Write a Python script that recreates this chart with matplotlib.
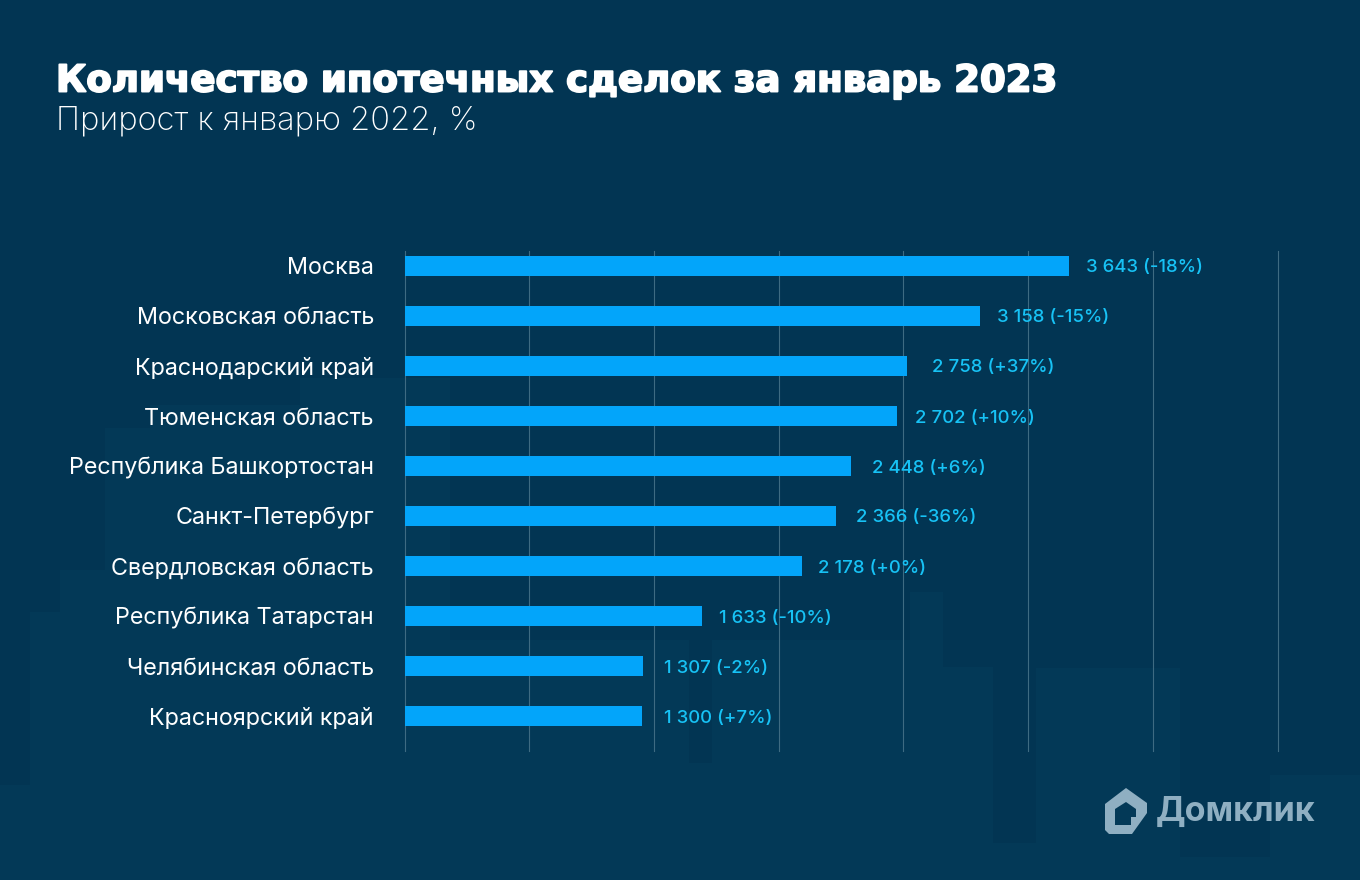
import matplotlib
matplotlib.use("Agg")
import matplotlib.pyplot as plt
import matplotlib.patheffects as pe
from matplotlib.patches import Polygon, Rectangle

W, H = 1360, 880
BG = "#023553"
BAR = "#03A5FA"
VALUE_COL = "#17C2F5"
FONT = "Inter"

regions = ["Москва", "Московская область", "Краснодарский край", "Тюменская область",
           "Республика Башкортостан", "Санкт-Петербург", "Свердловская область",
           "Республика Татарстан", "Челябинская область", "Красноярский край"]
deals = [3643, 3158, 2758, 2702, 2448, 2366, 2178, 1633, 1307, 1300]
growth = ["-18%", "-15%", "+37%", "+10%", "+6%", "-36%", "+0%", "-10%", "-2%", "+7%"]
grid_step = 684
grid_count = 8
# the labels do not sit at one fixed distance from the bars in the original
label_gap_px = [17, 17, 25, 18, 21, 20, 16, 17, 21, 22]

plt.rcParams["font.family"] = [FONT, "DejaVu Sans"]
fig = plt.figure(figsize=(W / 100, H / 100), dpi=100, facecolor=BG)

# background layer in pixel coords, faint city skyline
bg = fig.add_axes([0, 0, 1, 1], zorder=0)
bg.set_xlim(0, W)
bg.set_ylim(H, 0)
bg.axis("off")
LIGHT = "#033957"
for x0, x1, y0, y1 in [
    (0, 30, 785, 880), (30, 60, 612, 880), (60, 105, 570, 880),
    (105, 150, 428, 880), (150, 300, 405, 880), (300, 450, 378, 880),
    (450, 689, 640, 880), (712, 910, 640, 880), (910, 943, 592, 880),
    (943, 993, 667, 880), (1036, 1180, 668, 880), (1270, 1360, 775, 880),
    (0, 1360, 857, 880), (689, 712, 763, 880), (993, 1036, 843, 880),
]:
    bg.add_patch(Rectangle((x0, y0), x1 - x0, y1 - y0, fc=LIGHT, ec="none"))

# main chart
ax = fig.add_axes([404.5 / W, 1 - 751 / H, 873 / W, 500 / H], zorder=1)
ax.patch.set_alpha(0)
y = list(range(len(regions)))
ax.barh(y, deals, height=0.4, color=BAR, zorder=3)
ax.set_xlim(0, grid_step * (grid_count - 1))
ax.set_ylim(9.7, -0.3)
ax.set_xticks([i * grid_step for i in range(grid_count)])
ax.grid(axis="x", color="#3E6B82", linewidth=0.8, zorder=1, clip_on=False)
ax.set_axisbelow(True)
for sp in ax.spines.values():
    sp.set_visible(False)
ax.tick_params(axis="both", length=0, labelbottom=False)
ax.set_yticks(y)
ax.set_yticklabels(regions, fontsize=16.8, color="white", va="center_baseline")
ax.tick_params(axis="y", pad=22)

px_per_unit = 873 / (grid_step * (grid_count - 1))
for i, (v, g) in enumerate(zip(deals, growth)):
    label = f"{v:,}".replace(",", " ") + f" ({g})"
    ax.text(v + label_gap_px[i] / px_per_unit, i, label, va="center_baseline", ha="left",
            fontsize=13.4, fontweight="medium", color=VALUE_COL, zorder=4)

fig.text(56 / W, 1 - 81 / H, "Количество ипотечных сделок за январь 2023", fontsize=26.7,
         fontweight="bold", family=["DejaVu Sans"], color="white", va="center", ha="left",
         path_effects=[pe.withStroke(linewidth=1.4, foreground="white")])
fig.text(56 / W, 1 - 121 / H, "Прирост к январю 2022, %", fontsize=23.5, fontweight="light",
         color="white", va="center", ha="left")

# logo
logo = "#8FAFC2"
bg.add_patch(Polygon([(1105, 804), (1126, 788), (1147, 803), (1147, 813), (1132, 834), (1109, 834), (1105, 830)],
                     closed=True, fc=logo, ec="none"))
bg.add_patch(Polygon([(1115, 809), (1126, 802), (1136, 809), (1136, 817), (1131, 817), (1131, 825), (1115, 825)],
                     closed=True, fc=LIGHT, ec="none", zorder=5))
fig.text(1156 / W, 1 - 812 / H, "Домклик", fontsize=24.5, fontweight="bold", color=logo, va="center", ha="left")

fig.savefig("out.png", dpi=100, facecolor=BG)
